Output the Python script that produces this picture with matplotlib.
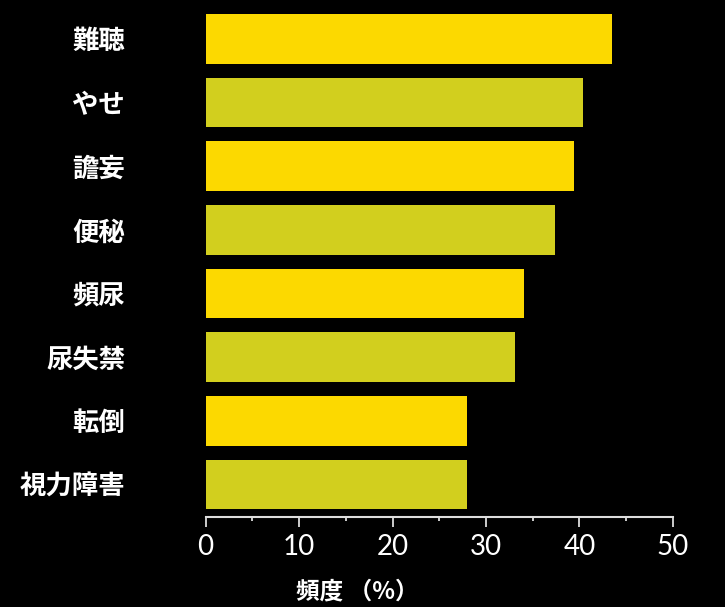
import matplotlib.pyplot as plt
import numpy as np

# data
categories = ['難聴', 'やせ', '譫妄', '便秘', '頻尿', '尿失禁', '転倒', '視力障害']
freq = [43.5, 40.4, 39.4, 37.4, 34.1, 33.1, 28.0, 28.0]
xticks = [0, 10, 20, 30, 40, 50]

plt.rcParams['font.family'] = ['Noto Sans CJK JP', 'DejaVu Sans']

fig = plt.figure(figsize=(7.25, 6.07), dpi=100, facecolor='black')
ax = fig.add_axes([0.2837, 0.1483, 0.6442, 0.8287], facecolor='black')

colors = ['#FCD900' if i % 2 == 0 else '#D2CF1E' for i in range(len(categories))]
ypos = np.arange(len(categories))
ax.barh(ypos, freq, height=0.78, color=colors)

ax.set_ylim(7.51, -0.39)
ax.set_xlim(0, 50)
ax.set_yticks(ypos)
ax.set_yticklabels(categories, color='white', fontsize=19, fontweight='bold')
ax.tick_params(axis='y', length=0, pad=58)

ax.set_xticks(xticks)
ax.set_xticklabels([str(v) for v in xticks], color='white', fontsize=20,
                   family=['Lato', 'DejaVu Sans'])
ax.set_xticks(np.arange(5, 50, 10), minor=True)
ax.tick_params(axis='x', which='major', length=7, width=1.3, color='#dddddd', pad=5)
ax.tick_params(axis='x', which='minor', length=3, width=1.3, color='#dddddd')

for s in ['top', 'right', 'left']:
    ax.spines[s].set_visible(False)
ax.spines['bottom'].set_color('#dddddd')
ax.spines['bottom'].set_linewidth(1.5)

ax.set_xlabel('頻度 （%）', color='white', fontsize=17, fontweight='bold', x=0.324, labelpad=14)

plt.savefig('out.png', dpi=100, facecolor='black')
